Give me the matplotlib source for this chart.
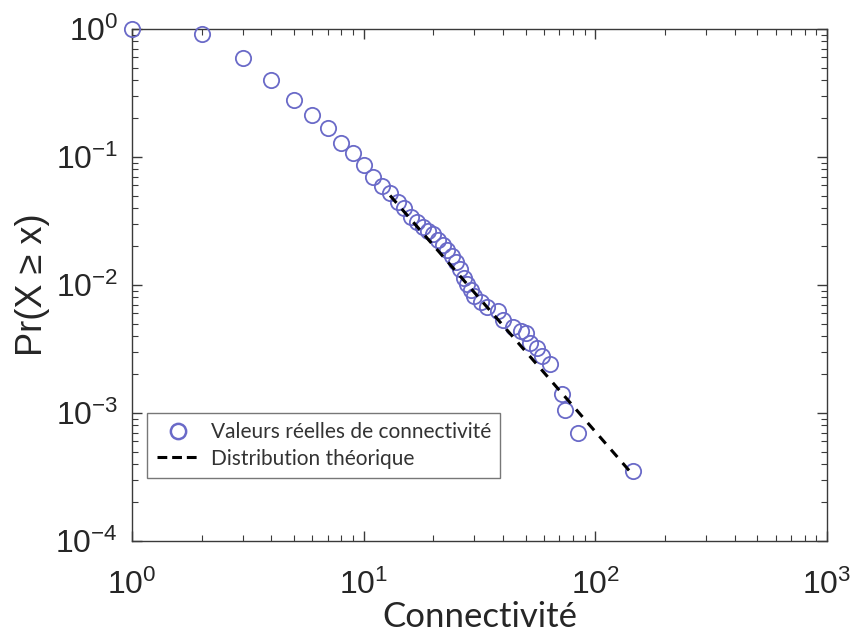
import matplotlib
matplotlib.use("Agg")
import matplotlib.pyplot as plt
from matplotlib.lines import Line2D

# Empirical complementary cumulative distribution of node degree
degree = [1, 2, 3, 4, 5, 6, 7, 8, 9, 10, 11, 12,
          13, 14, 15, 16, 17, 18, 19, 20, 21, 22, 23, 24, 25, 26, 27, 28, 29, 30,
          32, 34, 38, 40, 44, 48, 50, 52, 56, 59, 64, 72, 74, 84, 145]
ccdf = [1.0, 0.91, 0.59, 0.40, 0.28, 0.213, 0.168, 0.129, 0.107, 0.087, 0.070, 0.059,
        0.0523, 0.0445, 0.040, 0.0340, 0.031, 0.0284, 0.0266, 0.0250, 0.0225, 0.0204,
        0.0188, 0.0169, 0.0151, 0.0133, 0.0113, 0.0102, 0.0092, 0.0082,
        0.0073, 0.0067, 0.0063, 0.0053, 0.0047, 0.0044, 0.0042, 0.0035, 0.0032,
        0.0028, 0.0024, 0.0014, 0.00105, 0.00070, 0.00035]

# Fitted power-law tail (endpoints of the straight line in log-log space)
fit_x = [13, 145]
fit_y = [0.050, 0.00033]

x_ticks = [1, 10, 100, 1000]
y_ticks = [1e-4, 1e-3, 1e-2, 1e-1, 1]

marker_color = "#6a6ac8"
axis_color = "#3a3a3a"
text_color = "#262626"
tick_font = "Liberation Sans"
text_font = "Lato"

fig = plt.figure(figsize=(8.6, 6.34), dpi=100)
ax = fig.add_axes([0.1535, 0.1467, 0.8081, 0.8076])

ax.plot(degree, ccdf, linestyle="none", marker="o", markersize=11,
        markerfacecolor="none", markeredgecolor=marker_color, markeredgewidth=1.3,
        clip_on=False, zorder=3)
ax.plot(fit_x, fit_y, linestyle=(0, (3.2, 2.6)), color="black", linewidth=2.2, zorder=4)

ax.set_xscale("log")
ax.set_yscale("log")
ax.set_xlim(1, 1000)
ax.set_ylim(1e-4, 1)
ax.set_xticks(x_ticks)
ax.set_yticks(y_ticks)

for side in ax.spines.values():
    side.set_color(axis_color)
    side.set_linewidth(1.0)
ax.tick_params(which="both", direction="in", top=True, right=True, colors=axis_color,
               labelcolor=text_color)
ax.tick_params(which="major", length=7, width=1.0, labelsize=23)
ax.tick_params(which="minor", length=4, width=0.8)
ax.tick_params(axis="x", which="major", pad=21)
ax.tick_params(axis="y", which="major", pad=10)
for lab in ax.get_xticklabels() + ax.get_yticklabels():
    lab.set_fontfamily(tick_font)

xl = ax.set_xlabel("Connectivité", fontsize=25, fontfamily=text_font, color=text_color)
xl.set_va("baseline")
ax.xaxis.set_label_coords(0.5, -0.168)
ax.set_ylabel("Pr(X \u2265 x)", fontsize=26, fontfamily=tick_font, color=text_color, labelpad=4)

handles = [
    Line2D([], [], linestyle="none", marker="o", markersize=11, markerfacecolor="none",
           markeredgecolor=marker_color, markeredgewidth=1.8),
    Line2D([], [], linestyle=(0, (3.2, 1.6)), color="black", linewidth=2.2),
]
labels = ["Valeurs réelles de connectivité", "Distribution théorique"]
leg = ax.legend(handles, labels, loc="lower left", bbox_to_anchor=(0.022, 0.123),
                prop={"family": text_font, "size": 15}, frameon=True, fancybox=False,
                edgecolor="#555555", handlelength=2.0, handletextpad=0.6,
                borderpad=0.45, labelspacing=0.3, borderaxespad=0)
leg.get_frame().set_linewidth(1.0)
for t in leg.get_texts():
    t.set_color("#333333")

fig.savefig("out.png", dpi=100, facecolor="white")
